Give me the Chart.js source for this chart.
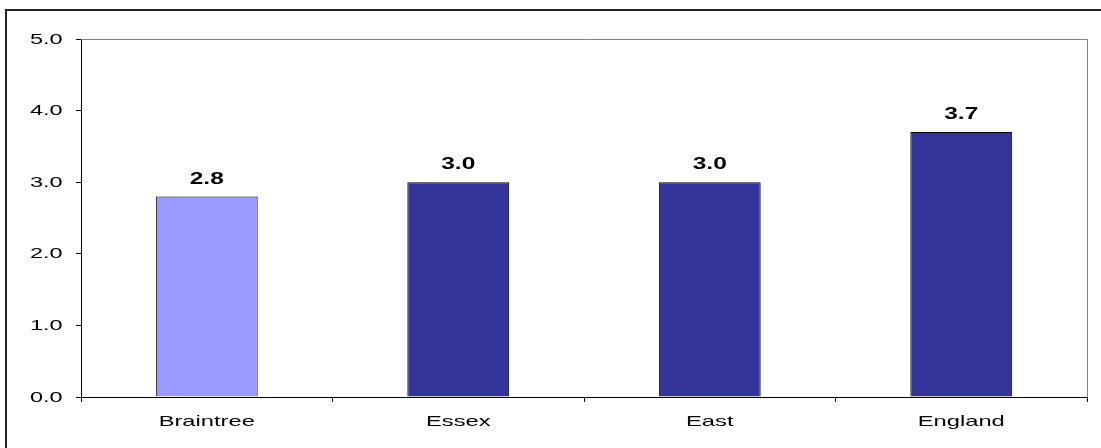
<!DOCTYPE html>
<html>
<head>
<meta charset="utf-8">
<script src="https://cdn.jsdelivr.net/npm/chart.js@4/dist/chart.umd.min.js"></script>
<style>
  html, body { margin: 0; padding: 0; background: #fff; }
  #wrap { width: 1101px; height: 448px; position: relative; }
</style>
</head>
<body>
<div id="wrap"><canvas id="c" width="1101" height="448"></canvas></div>
<script>
// Values per area
const categories = ['Braintree', 'Essex', 'East', 'England'];
const values = [2.8, 3.0, 3.0, 3.7];
const yTicks = [0, 1, 2, 3, 4, 5];

const barColors = ['#9999FF', '#333399', '#333399', '#333399'];
const FONT = '"Liberation Sans", Arial, sans-serif';

// Draw text widened horizontally by factor sx
function wideText(ctx, text, x, y, align, font, sx) {
  ctx.save();
  ctx.font = font;
  ctx.textAlign = align;
  ctx.textBaseline = 'alphabetic';
  ctx.translate(x, y);
  ctx.scale(sx, 1);
  ctx.fillText(text, 0, 0);
  ctx.restore();
}

// Outer frame, grey plot border, axis labels and value labels
const decorations = {
  id: 'decorations',
  beforeDraw(chart) {
    const ctx = chart.ctx;
    ctx.save();
    ctx.fillStyle = '#fff';
    ctx.fillRect(0, 0, chart.width, chart.height);
    ctx.restore();
  },
  afterDatasetsDraw(chart) {
    const ctx = chart.ctx;
    const a = chart.chartArea;
    ctx.save();
    // grey top and right edges of the plot area
    ctx.strokeStyle = '#808080';
    ctx.lineWidth = 1;
    ctx.beginPath();
    ctx.moveTo(a.left, a.top + 0.5);
    ctx.lineTo(a.right + 0.5, a.top + 0.5);
    ctx.lineTo(a.right + 0.5, a.bottom);
    ctx.stroke();
    ctx.fillStyle = '#000';

    // value labels
    const meta = chart.getDatasetMeta(0);
    meta.data.forEach((bar, i) => {
      wideText(ctx, values[i].toFixed(1), bar.x, bar.y - 13, 'center', 'bold 16px ' + FONT, 1.53);
    });

    // y axis labels
    const ys = chart.scales.y;
    yTicks.forEach(v => {
      wideText(ctx, v.toFixed(1), 62.7, ys.getPixelForValue(v) + 4.6, 'right', '14px ' + FONT, 1.68);
    });

    // category labels
    const xs = chart.scales.x;
    categories.forEach((c, i) => {
      wideText(ctx, c, xs.getPixelForValue(i), 426, 'center', '15px ' + FONT, 1.58);
    });
    ctx.restore();
  },
  afterDraw(chart) {
    const ctx = chart.ctx;
    ctx.save();
    ctx.strokeStyle = '#222';
    ctx.lineWidth = 2;
    ctx.strokeRect(6, 10, 1110, 460);
    ctx.restore();
  }
};

new Chart(document.getElementById('c'), {
  type: 'bar',
  data: {
    labels: categories,
    datasets: [{
      data: values,
      backgroundColor: barColors,
      borderColor: '#000',
      borderWidth: 1,
      barPercentage: 0.81,
      categoryPercentage: 0.5
    }]
  },
  options: {
    responsive: false,
    animation: false,
    devicePixelRatio: 1,
    layout: { padding: { left: 0, top: 39, right: 14, bottom: 0 } },
    plugins: { legend: { display: false }, tooltip: { enabled: false } },
    scales: {
      x: {
        offset: true,
        grid: {
          offset: true,
          drawOnChartArea: false,
          drawTicks: true,
          tickLength: 5,
          color: '#000'
        },
        border: { display: true, color: '#000', width: 1 },
        ticks: { display: false },
        afterFit(s) { s.height = 51; }
      },
      y: {
        min: 0,
        max: 5,
        afterBuildTicks(s) { s.ticks = yTicks.map(v => ({ value: v })); },
        grid: {
          drawOnChartArea: false,
          drawTicks: true,
          tickLength: 5,
          color: '#000'
        },
        border: { display: true, color: '#000', width: 1 },
        ticks: { display: false },
        afterFit(s) { s.width = 81; }
      }
    }
  },
  plugins: [decorations]
});
</script>
</body>
</html>
